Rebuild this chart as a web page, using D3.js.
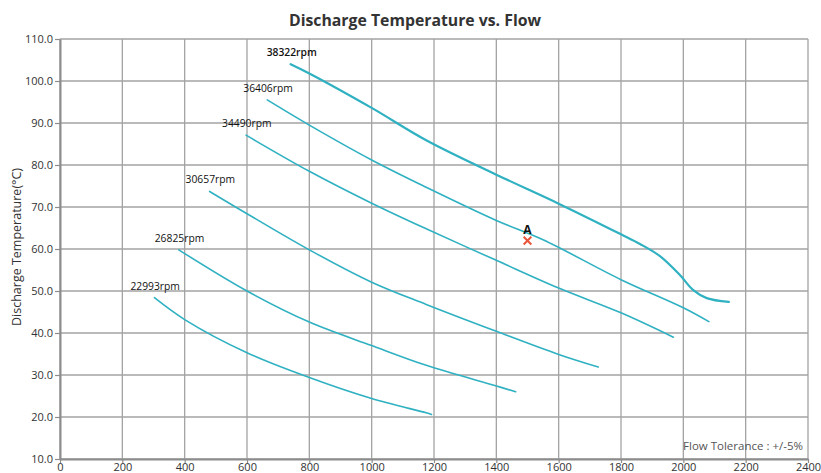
<!DOCTYPE html>
<html>
<head>
<meta charset="utf-8">
<script src="https://cdn.jsdelivr.net/npm/d3@7"></script>
<style>
  html, body { margin: 0; padding: 0; background: #fff; }
  svg { display: block; font-family: "Open Sans", "Noto Sans", sans-serif; }
</style>
</head>
<body>
<svg id="chart" width="821" height="473"></svg>
<script>
// ---- data ----
const speeds = ["38322rpm", "36406rpm", "34490rpm", "30657rpm", "26825rpm", "22993rpm"];
const flow38322 = [740, 800, 1000, 1175, 1400, 1600, 1800, 1861, 1925, 1989, 2032, 2075, 2146];
const temp38322 = [104.0, 101.8, 93.6, 85.9, 77.7, 70.8, 63.5, 61.2, 58.3, 53.8, 50.2, 48.3, 47.4];
const flow36406 = [665, 800, 1000, 1175, 1400, 1550, 1800, 2000, 2082];
const temp36406 = [95.5, 89.5, 81.2, 74.7, 66.8, 62.2, 52.7, 46.0, 42.7];
const flow34490 = [597, 800, 1000, 1175, 1400, 1600, 1800, 1968];
const temp34490 = [87.1, 78.5, 70.9, 64.8, 57.3, 50.7, 44.8, 39.0];
const flow30657 = [480, 600, 800, 1000, 1175, 1400, 1600, 1727];
const temp30657 = [73.7, 68.4, 59.8, 52.1, 46.8, 40.4, 34.9, 31.9];
const flow26825 = [381, 600, 800, 1000, 1175, 1400, 1462];
const temp26825 = [59.8, 50.0, 42.6, 37.0, 32.3, 27.4, 26.0];
const flow22993 = [303, 400, 600, 800, 1000, 1175, 1192];
const temp22993 = [48.4, 43.2, 35.3, 29.4, 24.4, 21.0, 20.6];
const pointA = { label: "A", flow: 1500, temp: 62.0 };
const xTicks = [0, 200, 400, 600, 800, 1000, 1200, 1400, 1600, 1800, 2000, 2200, 2400];
const yTicks = [10, 20, 30, 40, 50, 60, 70, 80, 90, 100, 110];
const title = "Discharge Temperature vs. Flow";
const yTitle = "Discharge Temperature(°C)";
const note = "Flow Tolerance : +/-5%";

const seriesFlows = [flow38322, flow36406, flow34490, flow30657, flow26825, flow22993];
const seriesTemps = [temp38322, temp36406, temp34490, temp30657, temp26825, temp22993];
const series = speeds.map((s, i) => ({
  name: s,
  pts: seriesFlows[i].map((f, j) => [f, seriesTemps[i][j]])
}));

// ---- layout ----
const svg = d3.select("#chart");
const L = 60, R = 808, T = 39, B = 459;
const x = d3.scaleLinear().domain([0, 2400]).range([L, R]);
const y = d3.scaleLinear().domain([10, 110]).range([B, T]);

// gridlines
const grid = svg.append("g");
grid.selectAll("line.v").data(xTicks).join("line")
  .attr("x1", d => x(d)).attr("x2", d => x(d))
  .attr("y1", T).attr("y2", B)
  .attr("stroke", "#a3a3a3").attr("stroke-width", 1.3);
grid.selectAll("line.h").data(yTicks).join("line")
  .attr("x1", L).attr("x2", R)
  .attr("y1", d => y(d)).attr("y2", d => y(d))
  .attr("stroke", "#a3a3a3").attr("stroke-width", 1.3);

// axes
const xAxis = svg.append("g").attr("transform", `translate(0,${B})`)
  .call(d3.axisBottom(x).tickValues(xTicks).tickSize(4).tickSizeOuter(0).tickFormat(d3.format("d")));
const yAxis = svg.append("g").attr("transform", `translate(${L},0)`)
  .call(d3.axisLeft(y).tickValues(yTicks).tickSize(5).tickSizeOuter(0).tickFormat(d3.format(".1f")));
[xAxis, yAxis].forEach(a => {
  a.select(".domain").attr("stroke", "#8c8c8c").attr("stroke-width", 2);
  a.selectAll(".tick line").attr("stroke", "#8c8c8c").attr("stroke-width", 1.2);
  a.selectAll(".tick text").attr("fill", "#333").style("font-size", "11px")
    .style("font-family", '"Open Sans", sans-serif');
});
xAxis.selectAll(".tick text").attr("dy", "0.55em").attr("y", 6);
yAxis.selectAll(".tick text").attr("x", -7);

// curves
const line = d3.line().x(d => x(d[0])).y(d => y(d[1])).curve(d3.curveCatmullRom.alpha(0.5));
svg.append("g").selectAll("path").data(series).join("path")
  .attr("d", d => line(d.pts))
  .attr("fill", "none")
  .attr("stroke", "#2fb1c2")
  .attr("stroke-width", (d, i) => i === 0 ? 2.2 : 1.6)
  .attr("stroke-linecap", "round");

// speed labels
svg.append("g").selectAll("text").data(series).join("text")
  .attr("x", d => x(d.pts[0][0]) - 24)
  .attr("y", d => y(d.pts[0][1]) - 8)
  .attr("fill", "#111")
  .style("font-size", "10.3px")
  .style("font-weight", (d, i) => i === 0 ? "600" : "400")
  .text(d => d.name);

// point A
const ax = x(pointA.flow), ay = y(pointA.temp);
svg.append("path")
  .attr("d", d3.symbol().type(d3.symbolX).size(40)())
  .attr("transform", `translate(${ax},${ay})`)
  .attr("stroke", "#e8553a").attr("stroke-width", 2).attr("fill", "none");
svg.append("text").attr("x", ax).attr("y", ay - 7)
  .attr("text-anchor", "middle").attr("fill", "#111")
  .style("font-size", "12px").style("font-weight", "700").text(pointA.label);

// titles
svg.append("text").attr("x", 415).attr("y", 26).attr("text-anchor", "middle")
  .attr("fill", "#333").style("font-size", "15.8px").style("font-weight", "700").text(title);
svg.append("text").attr("transform", `translate(21,247) rotate(-90)`)
  .attr("text-anchor", "middle").attr("fill", "#333").style("font-size", "12.5px").text(yTitle);
svg.append("text").attr("x", 803).attr("y", 450).attr("text-anchor", "end")
  .attr("fill", "#555").style("font-size", "11.5px").text(note);
</script>
</body>
</html>
